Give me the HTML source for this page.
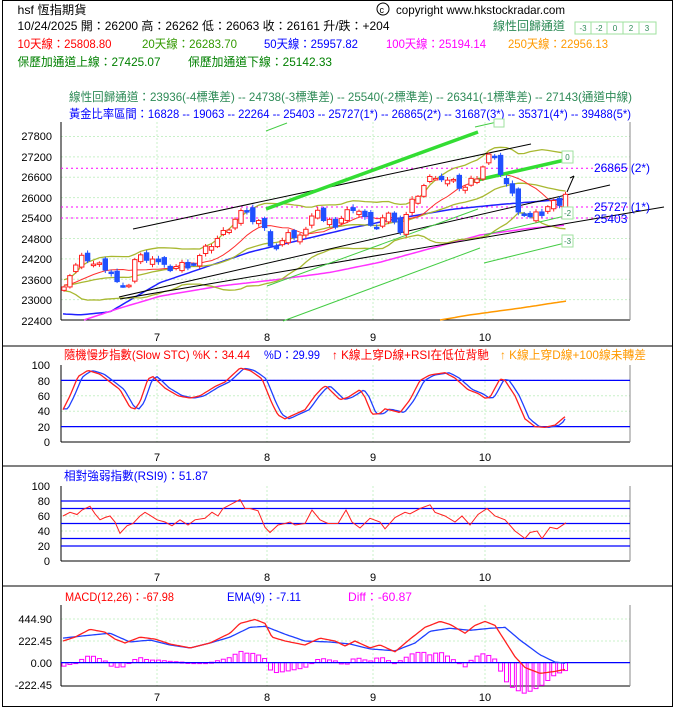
<!DOCTYPE html>
<html><head><meta charset="utf-8"><style>
body{margin:0;background:#fff;width:677px;height:717px;overflow:hidden;font-family:"Liberation Sans","Noto Sans CJK TC",sans-serif;}
svg{position:absolute;left:0;top:0}
svg text{font-family:"Liberation Sans","Noto Sans CJK TC",sans-serif;}
</style></head><body>
<svg id="s" width="677" height="717" xmlns="http://www.w3.org/2000/svg">
<rect x="2.5" y="0.5" width="670" height="706" fill="none" stroke="#000"/>
<line x1="2" y1="346" x2="672" y2="346" stroke="#000"/>
<line x1="2" y1="466" x2="672" y2="466" stroke="#000"/>
<line x1="2" y1="586" x2="672" y2="586" stroke="#000"/>
<g font-size="12" fill="#000">
<text x="17.5" y="14" textLength="69" lengthAdjust="spacingAndGlyphs">hsf 恆指期貨</text>
<circle cx="383" cy="9" r="6" fill="none" stroke="#000"/><text x="379.5" y="13" font-size="9">c</text>
<text x="396" y="14" textLength="169" lengthAdjust="spacingAndGlyphs">copyright www.hkstockradar.com</text>
<text x="17.5" y="30" textLength="372" lengthAdjust="spacingAndGlyphs">10/24/2025 開：26200 高：26262 低：26063 收：26161 升/跌：+204</text>
<text x="493" y="30" fill="#2e8b57" textLength="72" lengthAdjust="spacingAndGlyphs">線性回歸通道</text>
<text x="17.5" y="48" fill="#ff0000" textLength="94" lengthAdjust="spacingAndGlyphs">10天線：25808.80</text>
<text x="142" y="48" fill="#339900" textLength="95" lengthAdjust="spacingAndGlyphs">20天線：26283.70</text>
<text x="264" y="48" fill="#0000ff" textLength="94" lengthAdjust="spacingAndGlyphs">50天線：25957.82</text>
<text x="386" y="48" fill="#ff00ff" textLength="100" lengthAdjust="spacingAndGlyphs">100天線：25194.14</text>
<text x="508" y="48" fill="#ff9900" textLength="100" lengthAdjust="spacingAndGlyphs">250天線：22956.13</text>
<text x="17.5" y="66" fill="#008000" textLength="143" lengthAdjust="spacingAndGlyphs">保歷加通道上線：27425.07</text>
<text x="188" y="66" fill="#008000" textLength="144" lengthAdjust="spacingAndGlyphs">保歷加通道下線：25142.33</text>
<text x="69" y="101" fill="#2e8b57" textLength="563" lengthAdjust="spacingAndGlyphs">線性回歸通道：23936(-4標準差) -- 24738(-3標準差) -- 25540(-2標準差) -- 26341(-1標準差) -- 27143(通道中線)</text>
<text x="69" y="118" fill="#0000ff" textLength="562" lengthAdjust="spacingAndGlyphs">黃金比率區間：16828 -- 19063 -- 22264 -- 25403 -- 25727(1*) -- 26865(2*) -- 31687(3*) -- 35371(4*) -- 39488(5*)</text>
</g>
<g font-size="8" fill="#2e8b57" text-anchor="middle">
<rect x="575" y="22" width="81" height="12" fill="none" stroke="#9fe29f"/>
<line x1="591" y1="22" x2="591" y2="34" stroke="#9fe29f"/><line x1="607" y1="22" x2="607" y2="34" stroke="#9fe29f"/><line x1="623" y1="22" x2="623" y2="34" stroke="#9fe29f"/><line x1="639" y1="22" x2="639" y2="34" stroke="#9fe29f"/>
<text x="583" y="31">-3</text><text x="599" y="31">-2</text><text x="615" y="31">0</text><text x="631" y="31">2</text><text x="647" y="31">3</text>
</g>
<g id="g"></g>
<g font-size="11" fill="#000" text-anchor="end">
<text x="52" y="140">27800</text><text x="52" y="161">27200</text><text x="52" y="181">26600</text><text x="52" y="202">26000</text><text x="52" y="222">25400</text><text x="52" y="243">24800</text><text x="52" y="263">24200</text><text x="52" y="284">23600</text><text x="52" y="304">23000</text><text x="52" y="325">22400</text>
<text x="50" y="369">100</text><text x="50" y="385">80</text><text x="50" y="400">60</text><text x="50" y="415">40</text><text x="50" y="431">20</text><text x="50" y="446">0</text>
<text x="50" y="490">100</text><text x="50" y="505">80</text><text x="50" y="520">60</text><text x="50" y="535">40</text><text x="50" y="550">20</text><text x="50" y="565">0</text>
<text x="52" y="623">444.90</text><text x="52" y="645">222.45</text><text x="52" y="667">0.00</text><text x="52" y="689">-222.45</text>
</g>
<g font-size="11" fill="#000" text-anchor="middle">
<text x="157" y="341">7</text><text x="267" y="341">8</text><text x="373" y="341">9</text><text x="485" y="341">10</text>
<text x="157" y="461">7</text><text x="267" y="461">8</text><text x="373" y="461">9</text><text x="485" y="461">10</text>
<text x="157" y="581">7</text><text x="267" y="581">8</text><text x="373" y="581">9</text><text x="485" y="581">10</text>
<text x="157" y="701">7</text><text x="267" y="701">8</text><text x="373" y="701">9</text><text x="485" y="701">10</text>
</g>
<g font-size="12">
<text x="594" y="172" fill="#0000ff">26865 (2*)</text>
<text x="594" y="211" fill="#0000ff">25727 (1*)</text>
<text x="594" y="223" fill="#0000ff">25403</text>
<text x="64" y="359" fill="#ff0000" textLength="186" lengthAdjust="spacingAndGlyphs">隨機慢步指數(Slow STC) %K：34.44</text>
<text x="264" y="359" fill="#0000ff" textLength="56" lengthAdjust="spacingAndGlyphs">%D：29.99</text>
<text x="332" y="359" fill="#ff0000" textLength="157" lengthAdjust="spacingAndGlyphs">↑ K線上穿D線+RSI在低位背馳</text>
<text x="500" y="359" fill="#ff9900" textLength="146" lengthAdjust="spacingAndGlyphs">↑ K線上穿D線+100線未轉差</text>
<text x="64" y="480" fill="#0000ff" textLength="144" lengthAdjust="spacingAndGlyphs">相對強弱指數(RSI9)：51.87</text>
<text x="65" y="601" fill="#ff0000" textLength="109" lengthAdjust="spacingAndGlyphs">MACD(12,26)：-67.98</text>
<text x="227" y="601" fill="#0000ff" textLength="74" lengthAdjust="spacingAndGlyphs">EMA(9)：-7.11</text>
<text x="348" y="601" fill="#ff00ff" textLength="64" lengthAdjust="spacingAndGlyphs">Diff：-60.87</text>
</g>
<g font-size="8" fill="#2e8b57" text-anchor="middle">
<rect x="562" y="151" width="11" height="12" fill="#fff" stroke="#9fe29f"/><text x="567.5" y="160">0</text>
<rect x="562" y="207" width="11" height="12" fill="#fff" stroke="#9fe29f"/><text x="567.5" y="216">-2</text>
<rect x="562" y="235" width="11" height="12" fill="#fff" stroke="#9fe29f"/><text x="567.5" y="244">-3</text>
<rect x="494" y="119" width="10" height="8" fill="#fff" stroke="#9fe29f"/>
</g>
</svg>
<script>
var g=document.getElementById('g'),NS='http://www.w3.org/2000/svg';
function el(t,a){var e=document.createElementNS(NS,t);for(var k in a)e.setAttribute(k,a[k]);g.appendChild(e);return e;}
function interp(kp,x){for(var i=0;i<kp.length-1;i++){if(x<=kp[i+1][0]){var a=kp[i],b=kp[i+1],t=(x-a[0])/(b[0]-a[0]);return a[1]+(b[1]-a[1])*t;}}return kp[kp.length-1][1];}
function pl(pts,c,w,extra){var a={points:pts.map(p=>p[0].toFixed(1)+','+p[1].toFixed(1)).join(' '),fill:'none',stroke:c,'stroke-width':w||1};for(var k in extra)a[k]=extra[k];el('polyline',a);}
function line(x1,y1,x2,y2,c,w,d){var a={x1:x1,y1:y1,x2:x2,y2:y2,stroke:c,'stroke-width':w||1};if(d)a['stroke-dasharray']=d;el('line',a);}
var L=61,R=630,VX=[157,267,373,485];
function py(p){return 136.5+(27800-p)*183.5/5400;}
function grid(top,bot,ys){VX.forEach(x=>line(x,top,x,bot,'#c8f0c8',1,'2,2'));ys.forEach(y=>line(L,y,R,y,'#c8f0c8',1,'2,2'));line(L,top,L,bot,'#000');line(L,bot,R,bot,'#000');line(R,top,R,bot,'#888');}
var my=[];for(var p=22400;p<=27800;p+=600)my.push(py(p));
grid(122,py(22400),my);
grid(365,442,[380.4,395.8,411.2,426.6]);
grid(486,561,[501,516,531,546]);
grid(605,686,[619,641]);
var kp=[[63,23450],[70,23750],[75,23950],[85,24300],[95,24000],[105,24000],[115,23700],[120,23200],[128,23400],[135,24200],[150,24300],[165,23900],[180,24000],[195,24100],[210,24600],[225,25000],[235,25400],[240,25600],[250,25400],[262,25300],[266,24900],[275,24500],[290,24900],[305,24900],[315,25900],[322,25300],[335,25200],[345,25500],[355,25800],[365,25400],[372,25000],[385,25500],[395,25400],[400,25000],[408,25600],[415,26000],[425,26400],[435,26700],[445,26500],[455,26400],[465,26300],[478,26700],[490,27300],[500,26800],[510,26200],[520,25600],[530,25400],[540,25500],[550,25800],[560,25900],[566,26161]];
var N=86,xs=[],cl=[];
for(var i=0;i<N;i++){var x=64+i*5.9;xs.push(x);cl.push(interp(kp,x)+((i*37)%7-3)*40);}
var all=[];for(var i=0;i<20;i++)all.push(23300+((i*13)%5)*60);all=all.concat(cl);
function ma(n,k){var s=0;for(var j=k-n+1;j<=k;j++)s+=all[j];return s/n;}
var m10=[],m20=[],up=[],lo=[];
for(var i=0;i<N;i++){var k=i+20,m=ma(20,k),v=0;for(var j=k-19;j<=k;j++)v+=(all[j]-m)*(all[j]-m);var sd=Math.sqrt(v/20);
m10.push([xs[i],py(ma(10,k))]);m20.push([xs[i],py(m)]);up.push([xs[i],py(m+2*sd)]);lo.push([xs[i],py(m-2*sd)]);}
[26865,25727,25403].forEach(p=>line(L,py(p),R,py(p),'#ff00ff',1,'2,3'));
function kpl(k,c){var pts=[];for(var x=k[0][0];x<=k[k.length-1][0];x+=3)pts.push([x,py(interp(k,x))]);pl(pts,c,1.5);}
kpl([[63,22580],[80,22550],[110,22640],[125,22900],[160,23500],[200,23900],[250,24400],[300,24750],[350,25100],[400,25400],[450,25650],[500,25800],[566,25957]],'#2020ff');
kpl([[84,22400],[120,22750],[160,23100],[220,23400],[280,23600],[330,23800],[380,24100],[430,24500],[480,24900],[530,25100],[566,25194]],'#ff33ff');
kpl([[440,22400],[470,22550],[520,22750],[566,22956]],'#ff9900');
pl(up,'#a8b830',1.3);pl(lo,'#a8b830',1.3);pl(m20,'#a8b830',1.3);pl(m10,'#ff3030',1);
line(133,229,531,144,'#000');line(119,297,610,185,'#000');line(120,299,664,207,'#000');
line(266,209,478,132,'#33dd33',3.5);line(473,181,565,160,'#33dd33',3.5);
[[266,131,287,123],[475,127,497,122],[484,235,565,216],[484,263,565,243],[267,286,478,209],[283,321,480,248]].forEach(a=>line(a[0],a[1],a[2],a[3],'#44cc44',1));
line(567,192,574,176,'#000');line(570,178,574,176,'#000');
for(var i=0;i<N;i++){var c=cl[i],o=i?cl[i-1]+((i*17)%5-2)*60:c-100,x=xs[i];var h=Math.max(o,c)+40+(i*11)%60,l=Math.min(o,c)-40-(i*7)%60;var col=c>=o?'#ff2020':'#2050ff';
line(x,py(h),x,py(l),col,1);var yt=py(Math.max(o,c)),yb=py(Math.min(o,c));if(yb-yt<1.5)yb=yt+1.5;
el('rect',{x:x-2.2,y:yt,width:4.4,height:yb-yt,fill:c>=o?'#fff':col,stroke:col,'stroke-width':1});}
function sy(v){return 442-v*0.77;}
var K=[[63,42],[70,60],[78,85],[88,93],[100,88],[110,78],[120,68],[130,45],[135,43],[140,52],[148,82],[153,85],[165,70],[178,60],[190,57],[200,60],[215,72],[225,78],[235,90],[240,96],[250,93],[262,82],[272,50],[278,35],[285,30],[293,35],[305,42],[315,60],[322,70],[326,73],[332,65],[340,55],[348,58],[360,68],[365,58],[372,36],[380,37],[385,43],[395,40],[400,38],[410,55],[420,80],[430,87],[445,90],[455,83],[468,68],[478,63],[485,57],[490,58],[500,82],[505,80],[515,60],[525,30],[535,20],[545,19],[555,22],[566,34]];
var ks=[],ds=[];for(var x=63;x<=566;x+=2){ks.push([x,sy(interp(K,x))]);ds.push([x,sy(x<=67?43:interp(K,x-4)*0.9+interp(K,x-8)*0.1)]);}
ds[ds.length-1][1]=sy(30);
[380.4,426.6].forEach(y=>line(L,y,R,y,'#0000ff',1.3));
pl(ds,'#2040ff',1.3);pl(ks,'#ff2020',1.3);
function ry(v){return 561-v*0.75;}
[80,70,50,30,20].forEach(v=>line(L,ry(v),R,ry(v),'#0000ff',1.3));
var RK=[[63,60],[70,65],[77,62],[82,68],[90,73],[95,63],[100,55],[105,58],[110,60],[115,52],[120,37],[127,47],[133,50],[140,60],[145,65],[150,61],[157,55],[165,52],[172,47],[180,55],[188,48],[195,55],[205,57],[212,65],[218,60],[223,70],[230,75],[240,82],[245,70],[250,70],[258,67],[265,45],[270,38],[278,48],[285,50],[290,52],[295,48],[305,50],[312,68],[320,55],[328,50],[338,50],[346,68],[352,52],[360,44],[370,57],[380,52],[385,43],[395,58],[405,65],[410,63],[420,70],[430,75],[435,65],[445,60],[455,52],[462,60],[470,48],[478,62],[487,70],[495,60],[505,55],[515,40],[525,30],[530,38],[537,40],[542,30],[550,45],[557,43],[566,51]];
pl(RK.map(p=>[p[0],ry(p[1])]),'#ff2020',1);
function cy(v){return 662.6-v*0.098;}
var MR=[[63,220],[75,260],[90,340],[105,310],[115,240],[125,200],[140,260],[155,240],[170,190],[190,150],[210,200],[230,300],[240,400],[255,440],[265,400],[272,260],[285,220],[305,180],[320,250],[335,220],[345,170],[355,220],[370,150],[380,180],[395,110],[410,240],[425,360],[440,420],[450,390],[465,300],[475,380],[485,420],[495,380],[505,220],[515,60],[525,-50],[540,-110],[555,-90],[566,-68]];
var MB=[[63,250],[90,280],[110,300],[130,210],[150,230],[170,180],[190,150],[210,200],[230,260],[250,360],[265,370],[285,290],[305,220],[330,210],[350,190],[370,140],[395,120],[415,200],[430,320],[450,350],[470,330],[490,350],[505,360],[520,230],[540,80],[555,5],[566,-7]];
for(var i=0;i<N;i++){var x=xs[i],d=(interp(MR,x)-interp(MB,x))*1.3;var y0=cy(0),y1=cy(d);el('rect',{x:x-2,y:Math.min(y0,y1),width:4,height:Math.max(1,Math.abs(y1-y0)),fill:'none',stroke:'#ff00ff','stroke-width':1});}
line(L,cy(0),R,cy(0),'#0000ff',1.3);
var mr=[],mb=[];for(var x=63;x<=566;x+=2){mr.push([x,cy(interp(MR,x))]);mb.push([x,cy(interp(MB,x))]);}
pl(mb,'#2040ff',1.3);pl(mr,'#ff2020',1.3);
</script>
</body></html>
